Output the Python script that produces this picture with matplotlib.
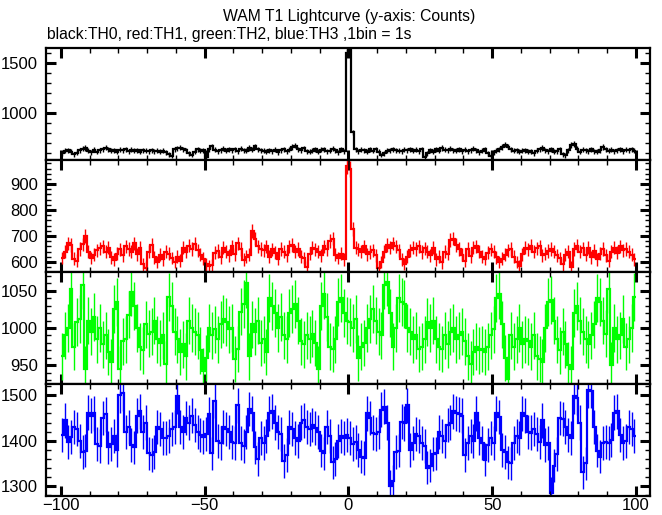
import numpy as np
import matplotlib
matplotlib.use("Agg")
import matplotlib.pyplot as plt
from matplotlib.ticker import MultipleLocator, AutoMinorLocator

plt.rcParams['font.family'] = ['Liberation Sans', 'DejaVu Sans']

# Time bins (1 s), left edges from -100 to 99
t_start = -100
n_bins = 200

th0 = [598, 622, 630, 612, 588, 603, 628, 641, 650, 624,
       610, 633, 615, 628, 640, 655, 638, 622, 630, 612,
       635, 626, 640, 618, 632, 624, 628, 615, 630, 622,
       618, 628, 620, 624, 615, 622, 610, 590, 572, 640,
       648, 655, 640, 628, 598, 580, 612, 636, 625, 630,
       565, 640, 668, 632, 618, 630, 645, 625, 640, 628,
       636, 618, 645, 630, 622, 650, 632, 668, 640, 628,
       622, 615, 630, 620, 634, 610, 628, 640, 620, 635,
       660, 672, 640, 630, 648, 620, 612, 625, 638, 615,
       632, 640, 618, 625, 645, 628, 610, 636, 620, 1600,
       1625, 805, 640, 620, 632, 628, 612, 636, 625, 640,
       612, 580, 598, 622, 628, 640, 630, 625, 618, 632,
       628, 640, 624, 632, 620, 636, 565, 600, 628, 615,
       640, 622, 650, 632, 628, 645, 630, 625, 640, 620,
       632, 618, 628, 645, 630, 610, 622, 640, 600, 575,
       610, 625, 640, 660, 685, 662, 640, 625, 630, 615,
       622, 628, 612, 618, 600, 625, 640, 650, 630, 620,
       636, 612, 620, 640, 590, 578, 630, 680, 690, 645,
       612, 632, 628, 620, 640, 618, 612, 630, 660, 640,
       625, 632, 618, 630, 640, 620, 632, 628, 640, 625]

th1 = [615, 640, 672, 665, 612, 605, 650, 668, 700, 640,
       615, 628, 645, 652, 660, 640, 655, 618, 608, 632,
       648, 625, 660, 650, 640, 672, 630, 655, 590, 578,
       640, 665, 618, 600, 628, 610, 640, 632, 615, 600,
       620, 605, 655, 640, 662, 650, 670, 645, 628, 612,
       590, 585, 588, 635, 642, 618, 655, 640, 625, 660,
       630, 672, 650, 608, 620, 628, 718, 690, 660, 650,
       645, 660, 620, 648, 635, 612, 650, 640, 625, 660,
       665, 640, 650, 620, 615, 580, 632, 655, 648, 640,
       625, 660, 650, 680, 690, 628, 615, 632, 610, 970,
       960, 728, 655, 648, 640, 660, 630, 638, 645, 625,
       578, 600, 640, 665, 655, 672, 660, 645, 610, 592,
       620, 645, 655, 650, 660, 638, 652, 640, 625, 655,
       610, 620, 598, 640, 632, 685, 690, 665, 650, 628,
       605, 650, 622, 655, 660, 640, 620, 612, 635, 648,
       640, 618, 600, 612, 628, 645, 650, 620, 600, 585,
       630, 655, 648, 662, 640, 652, 660, 625, 632, 642,
       650, 640, 625, 615, 590, 628, 640, 580, 650, 662,
       640, 652, 628, 655, 618, 642, 610, 632, 650, 625,
       605, 640, 655, 635, 660, 645, 650, 640, 628, 610]

th2 = [962, 990, 1000, 1052, 975, 1008, 1012, 1058, 945, 1010,
       995, 1015, 985, 1000, 978, 990, 968, 955, 1025, 1035,
       945, 982, 985, 1018, 1048, 1030, 1000, 975, 970, 1005,
       992, 995, 1010, 985, 980, 990, 952, 1042, 1030, 995,
       985, 968, 978, 962, 1010, 1000, 995, 990, 970, 942,
       960, 1000, 990, 998, 985, 1005, 1012, 1008, 998, 1000,
       958, 972, 1022, 1032, 1060, 962, 1005, 995, 1010, 980,
       985, 968, 1040, 1030, 1020, 1000, 1015, 990, 985, 1020,
       1025, 1032, 1010, 982, 978, 990, 985, 992, 980, 945,
       1030, 1045, 1015, 975, 972, 985, 1035, 1040, 1020, 1010,
       1008, 1000, 1012, 960, 975, 980, 1000, 1012, 1025, 1010,
       995, 990, 1058, 1062, 1020, 975, 1000, 1040, 1035, 1032,
       1000, 995, 985, 990, 972, 975, 985, 1008, 1000, 1010,
       985, 975, 972, 990, 978, 995, 1000, 985, 990, 995,
       982, 962, 952, 968, 975, 970, 972, 968, 975, 990,
       998, 1040, 1045, 1005, 960, 932, 990, 975, 985, 1000,
       978, 985, 982, 975, 990, 962, 958, 955, 1000, 1035,
       1038, 1010, 985, 970, 995, 978, 950, 945, 1020, 1030,
       1010, 995, 985, 978, 990, 1005, 1040, 1035, 1010, 992,
       1052, 950, 1000, 985, 990, 1012, 975, 985, 1000, 1042]

th3 = [1412, 1445, 1398, 1408, 1430, 1425, 1400, 1375, 1378, 1462,
       1455, 1460, 1392, 1388, 1450, 1458, 1385, 1392, 1410, 1380,
       1500, 1505, 1420, 1430, 1390, 1385, 1455, 1465, 1420, 1440,
       1372, 1368, 1375, 1430, 1425, 1405, 1406, 1410, 1425, 1430,
       1498, 1430, 1420, 1450, 1440, 1455, 1435, 1420, 1412, 1408,
       1415, 1458, 1372, 1488, 1400, 1395, 1430, 1425, 1420, 1398,
       1395, 1478, 1395, 1388, 1420, 1470, 1460, 1385, 1360, 1405,
       1395, 1410, 1460, 1465, 1440, 1420, 1415, 1355, 1368, 1430,
       1425, 1405, 1400, 1440, 1445, 1430, 1425, 1435, 1428, 1420,
       1378, 1372, 1430, 1410, 1352, 1360, 1400, 1410, 1405, 1412,
       1405, 1392, 1398, 1380, 1365, 1362, 1460, 1450, 1418, 1415,
       1420, 1468, 1475, 1440, 1300, 1310, 1375, 1378, 1442, 1438,
       1478, 1380, 1395, 1415, 1410, 1395, 1388, 1340, 1345, 1370,
       1372, 1420, 1410, 1400, 1435, 1440, 1465, 1460, 1458, 1455,
       1368, 1395, 1410, 1400, 1460, 1405, 1395, 1358, 1390, 1405,
       1395, 1460, 1452, 1380, 1375, 1352, 1350, 1395, 1410, 1405,
       1460, 1455, 1420, 1418, 1425, 1415, 1398, 1445, 1390, 1395,
       1285, 1345, 1370, 1450, 1448, 1430, 1412, 1405, 1498, 1495,
       1440, 1330, 1350, 1512, 1510, 1430, 1378, 1365, 1395, 1398,
       1395, 1402, 1462, 1465, 1412, 1395, 1400, 1430, 1425, 1410]

series = [th0, th1, th2, th3]
colors = ['black', 'red', '#00ff00', 'blue']
ylims = [(531, 1646), (561, 993), (925, 1075), (1278, 1525)]
ymajor = [500, 100, 50, 100]

title = "WAM T1 Lightcurve (y-axis: Counts)"
subtitle = "black:TH0, red:TH1, green:TH2, blue:TH3 ,1bin = 1s"

W, H = 662, 515
fig = plt.figure(figsize=(W / 100, H / 100), dpi=100)

left, right = 46 / W, 650 / W
top_px, bot_px = 48, 496
ph = (bot_px - top_px) / 4

edges = np.arange(t_start, t_start + n_bins + 1)
centers = edges[:-1] + 0.5

for k, (vals, col, yl, ym) in enumerate(zip(series, colors, ylims, ymajor)):
    y0 = 1 - (top_px + (k + 1) * ph) / H
    ax = fig.add_axes([left, y0, right - left, ph / H])
    v = np.asarray(vals, dtype=float)
    err = np.sqrt(v)
    ax.vlines(centers, v - err, v + err, color=col, lw=1.0)
    ax.stairs(v, edges, baseline=None, color=col, lw=1.6)
    ax.set_xlim(-105.2, 104.9)
    ax.set_ylim(*yl)
    ax.xaxis.set_major_locator(MultipleLocator(50))
    ax.xaxis.set_minor_locator(MultipleLocator(10))
    ax.yaxis.set_major_locator(MultipleLocator(ym))
    ax.yaxis.set_minor_locator(AutoMinorLocator(5))
    ax.tick_params(which='both', direction='in', top=True, right=True,
                   labelsize=12, colors='black')
    ax.tick_params(which='major', length=7, width=2.2)
    ax.tick_params(which='minor', length=3.5, width=1.0)
    ax.tick_params(axis='y', which='major', pad=6)
    for s in ax.spines.values():
        s.set_linewidth(1.6)
    if k < 3:
        ax.tick_params(labelbottom=False)
    else:
        ax.tick_params(axis='x', which='major', pad=1.5)

fig.text(349 / W, 1 - 17 / H, title, ha='center', va='center', fontsize=11.3)
fig.text(47 / W, 1 - 35 / H, subtitle, ha='left', va='center', fontsize=11.3)

fig.savefig("out.png", dpi=100)
